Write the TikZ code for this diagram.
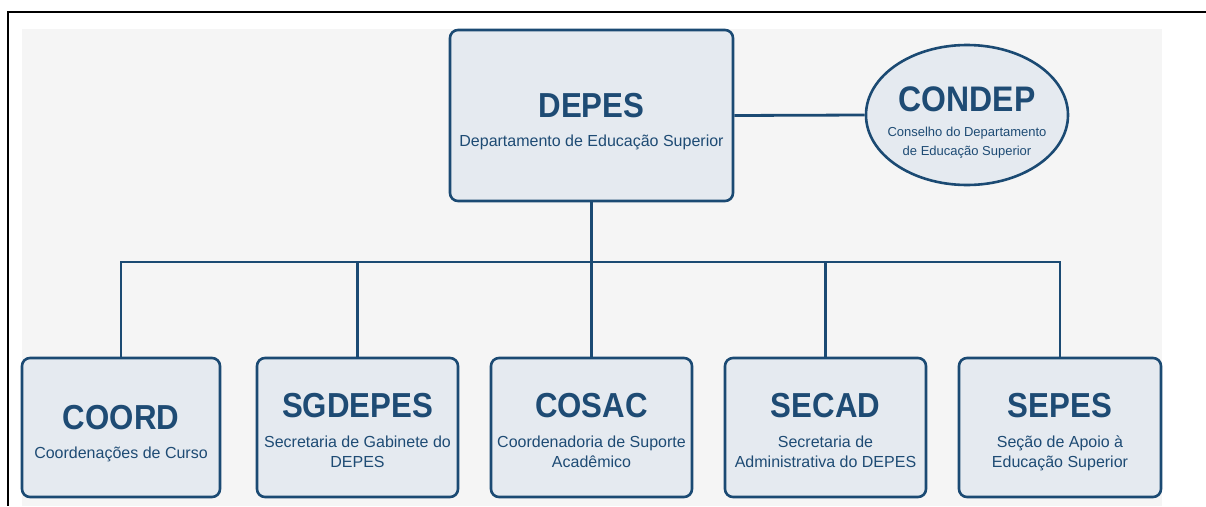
\documentclass[tikz,border=0pt]{standalone}
\usepackage{fontspec}
\setmainfont{Liberation Sans}
\newfontfamily\titlefont{Liberation Sans}[FakeStretch=0.9]
\usetikzlibrary{shapes.geometric}
\definecolor{frameblue}{HTML}{1B4A73}
\definecolor{textblue}{HTML}{1E4B74}
\definecolor{boxfill}{HTML}{E5EAF0}
\definecolor{bggray}{HTML}{F5F5F5}
\tikzset{
  orgbox/.style={draw=frameblue, line width=2.6pt, fill=boxfill, rounded corners=8pt,
    inner sep=0pt, minimum height=139pt},
  orgell/.style={ellipse, draw=frameblue, line width=2.6pt, fill=boxfill,
    inner sep=0pt, minimum width=202pt, minimum height=140pt},
  ttl/.style={font={\titlefont\fontsize{34.7}{36}\selectfont\bfseries}, text=textblue, inner sep=0pt, anchor=base},
  subl/.style={font={\fontsize{16}{20}\selectfont}, text=textblue, inner sep=0pt, anchor=base},
  csubl/.style={font={\fontsize{13}{16}\selectfont}, text=textblue, inner sep=0pt, anchor=base},
  link/.style={draw=frameblue, line width=2.8pt}
}
\begin{document}
\begin{tikzpicture}[x=1pt,y=-1pt]
\useasboundingbox (0,0) rectangle (1206,506);
\fill[white] (0,0) rectangle (1206,506);
\fill[bggray] (22,29) rectangle (1162,506);
\draw[black, line width=2.2pt] (1206,12) -- (8,12) -- (8,506);

% top level
\node[orgbox, minimum width=283pt, minimum height=171pt] (depes) at (591.5,115.5) {};
\node[ttl] (depesT) at (591.5,117.5) {DEPES};
\node[subl] (depesS) at (591.5,146) {Departamento de Educação Superior};

\node[orgell] (condep) at (967,115) {};
\node[ttl, font={\titlefont\fontsize{35.5}{37}\selectfont\bfseries}] (condepT) at (967,111) {CONDEP};
\node[csubl] (condepS1) at (967,136) {Conselho do Departamento};
\node[csubl] (condepS2) at (967,155) {de Educação Superior};

% second level
\node[orgbox, minimum width=198pt] (coord) at (121,427.5) {};
\node[ttl] (coordT) at (121,429) {COORD};
\node[subl] (coordS) at (121,458) {Coordenações de Curso};

\node[orgbox, minimum width=201pt] (sgdepes) at (357.5,427.5) {};
\node[ttl] (sgdepesT) at (357.5,417) {SGDEPES};
\node[subl] (sgdepesS1) at (357.5,447) {Secretaria de Gabinete do};
\node[subl] (sgdepesS2) at (357.5,467.5) {DEPES};

\node[orgbox, minimum width=201pt] (cosac) at (591.5,427.5) {};
\node[ttl] (cosacT) at (591.5,417) {COSAC};
\node[subl] (cosacS1) at (591.5,447) {Coordenadoria de Suporte};
\node[subl] (cosacS2) at (591.5,467.5) {Acadêmico};

\node[orgbox, minimum width=201pt] (secad) at (825.5,427.5) {};
\node[ttl] (secadT) at (825.5,417) {SECAD};
\node[subl] (secadS1) at (825.5,447) {Secretaria de};
\node[subl] (secadS2) at (825.5,467.5) {Administrativa do DEPES};

\node[orgbox, minimum width=202pt] (sepes) at (1060,427.5) {};
\node[ttl] (sepesT) at (1060,417) {SEPES};
\node[subl] (sepesS1) at (1060,447) {Seção de Apoio à};
\node[subl] (sepesS2) at (1060,467.5) {Educação Superior};

% connectors
\coordinate (bus) at (591.5,262);
\draw[link] (depes.east) -- (condep.west);
\draw[link] (depes.south) -- (bus);
\draw[link] (coord.north) |- (bus) -| (sepes.north);
\draw[link] (sgdepes.north) -- (sgdepes.north |- bus);
\draw[link] (cosac.north) -- (cosac.north |- bus);
\draw[link] (secad.north) -- (secad.north |- bus);
\end{tikzpicture}
\end{document}
